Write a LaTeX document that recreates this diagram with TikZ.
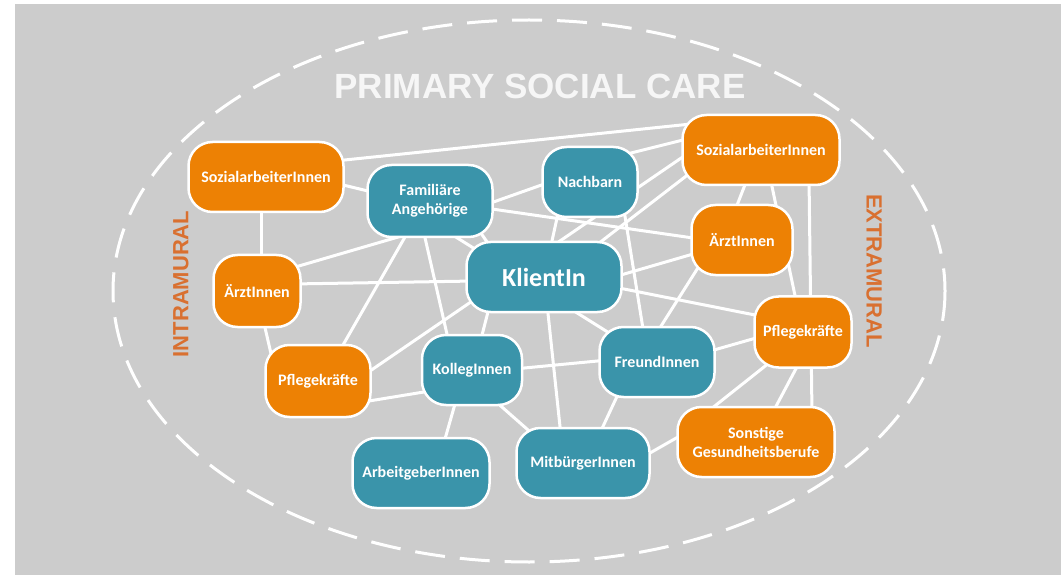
\documentclass[tikz,border=0pt]{standalone}
\usepackage{fontspec}
\setmainfont{Carlito}
\newfontfamily\headfont{Liberation Sans}
\usetikzlibrary{backgrounds}

\definecolor{panel}{RGB}{204,204,204}
\definecolor{careorange}{RGB}{237,129,4}
\definecolor{careteal}{RGB}{58,148,170}
\definecolor{sidelabel}{RGB}{217,112,48}
\definecolor{headwhite}{RGB}{246,246,246}

\tikzset{
  carebox/.style={rounded corners=24bp, draw=white, line width=2.5bp,
    text=white, align=center, inner sep=0pt, minimum height=70bp,
    font=\bfseries\fontsize{16bp}{19bp}\selectfont},
  obox/.style={carebox, fill=careorange},
  tbox/.style={carebox, fill=careteal},
  link/.style={draw=white, line width=3bp},
  sidetext/.style={text=sidelabel, font=\headfont\bfseries\fontsize{22bp}{22bp}\selectfont}
}

\begin{document}
\begin{tikzpicture}[x=1bp,y=-1bp]
\useasboundingbox (0,0) rectangle (1061,575);

% panel, boundary and headings
\begin{pgfonlayer}{background}
  \fill[white] (0,0) rectangle (1061,575);
  \fill[panel] (15,4) rectangle (1061,575);
  \draw[white, line width=3bp, dash pattern=on 30bp off 15bp] (529,291) ellipse [x radius=416, y radius=271];
\end{pgfonlayer}

\node[text=headwhite, font=\headfont\bfseries\fontsize{35bp}{35bp}\selectfont] (title) at (540,86) {PRIMARY SOCIAL CARE};
\node[sidetext, rotate=90] (intra) at (181,284) {INTRAMURAL};
\node[sidetext, rotate=-90] (extra) at (874,271) {EXTRAMURAL};

% intramural professions
\node[obox, minimum width=155bp] (sozl) at (266,177) {SozialarbeiterInnen};
\node[obox, minimum width=87bp, minimum height=72bp] (arztl) at (257,291) {ÄrztInnen};
\node[obox, minimum width=105bp, minimum height=72bp] (pfll) at (318,381) {Pflegekräfte};

% private network
\node[tbox, minimum width=125bp, minimum height=72bp] (fam) at (430,201) {Familiäre\\Angehörige};
\node[tbox, minimum width=95bp] (nach) at (590,182) {Nachbarn};
\node[tbox, minimum width=155bp, font=\bfseries\fontsize{26bp}{30bp}\selectfont] (klient) at (544,277) {KlientIn};
\node[tbox, minimum width=100bp] (kolleg) at (472,370) {KollegInnen};
\node[tbox, minimum width=137bp] (arbeit) at (421,473) {ArbeitgeberInnen};
\node[tbox, minimum width=115bp] (freund) at (657,362) {FreundInnen};
\node[tbox, minimum width=133bp] (mitb) at (583,463) {MitbürgerInnen};

% extramural professions
\node[obox, minimum width=157bp] (sozr) at (761,150) {SozialarbeiterInnen};
\node[obox, minimum width=101bp] (arztr) at (742,240) {ÄrztInnen};
\node[obox, minimum width=97bp, minimum height=71bp] (pflr) at (803,332) {Pflegekräfte};
\node[obox, minimum width=157bp] (sonst) at (756,442) {Sonstige\\Gesundheitsberufe};

% connections, drawn beneath the boxes
\begin{pgfonlayer}{background}
  \draw[link] ([shift={(69,-16)}]sozl.center) -- ([shift={(-70,-26)}]sozr.center);
  \draw[link] ([shift={(69,6)}]sozl.center) -- ([shift={(-54,-8)}]fam.center);
  \draw[link] ([shift={(-5,27)}]sozl.center) -- ([shift={(4,-28)}]arztl.center);
  \draw[link] ([shift={(55,4)}]fam.center) -- ([shift={(-40,0)}]nach.center);
  \draw[link] ([shift={(55,7)}]fam.center) -- ([shift={(-42,-1)}]arztr.center);
  \draw[link] ([shift={(46,25)}]fam.center) -- ([shift={(-50,-25)}]klient.center);
  \draw[link] ([shift={(-25,34)}]fam.center) -- ([shift={(35,-23)}]arztl.center);
  \draw[link] ([shift={(-21,29)}]fam.center) -- ([shift={(21,-29)}]pfll.center);
  \draw[link] ([shift={(-7,28)}]fam.center) -- ([shift={(-23,-27)}]kolleg.center);
  \draw[link] ([shift={(21,33)}]fam.center) -- ([shift={(-43,-26)}]freund.center);
  \draw[link] ([shift={(35,-7)}]arztl.center) -- ([shift={(-69,4)}]klient.center);
  \draw[link] ([shift={(6,28)}]arztl.center) -- ([shift={(-46,-23)}]pfll.center);
  \draw[link] ([shift={(52,-10)}]pfll.center) -- ([shift={(-71,2)}]sozr.center);
  \draw[link] ([shift={(51,20)}]pfll.center) -- ([shift={(-42,21)}]kolleg.center);
  \draw[link] ([shift={(-54,27)}]klient.center) -- ([shift={(8,-27)}]kolleg.center);
  \draw[link] ([shift={(3,27)}]klient.center) -- ([shift={(-22,-27)}]mitb.center);
  \draw[link] ([shift={(70,10)}]klient.center) -- ([shift={(-38,-15)}]pflr.center);
  \draw[link] ([shift={(70,0)}]klient.center) -- ([shift={(-42,12)}]arztr.center);
  \draw[link] ([shift={(50,-30)}]klient.center) -- ([shift={(-67,20)}]sozr.center);
  \draw[link] ([shift={(6,-27)}]klient.center) -- ([shift={(-31,27)}]nach.center);
  \draw[link] ([shift={(-15,27)}]kolleg.center) -- ([shift={(22,-27)}]arbeit.center);
  \draw[link] ([shift={(22,30)}]kolleg.center) -- ([shift={(-47,-26)}]mitb.center);
  \draw[link] ([shift={(42,-1)}]kolleg.center) -- ([shift={(-49,-2)}]freund.center);
  \draw[link] ([shift={(34,28)}]nach.center) -- ([shift={(-13,-27)}]freund.center);
  \draw[link] ([shift={(37,-28)}]nach.center) -- ([shift={(-70,-12)}]sozr.center);
  \draw[link] ([shift={(-1,-28)}]freund.center) -- ([shift={(-41,23)}]arztr.center);
  \draw[link] ([shift={(50,-10)}]freund.center) -- ([shift={(-40,4)}]pflr.center);
  \draw[link] ([shift={(-37,28)}]freund.center) -- ([shift={(16,-28)}]mitb.center);
  \draw[link] ([shift={(60,-6)}]mitb.center) -- ([shift={(-71,-9)}]sonst.center);
  \draw[link] ([shift={(-34,31)}]pflr.center) -- ([shift={(-45,-33)}]sonst.center);
  \draw[link] ([shift={(-4,31)}]pflr.center) -- ([shift={(17,-30)}]sonst.center);
  \draw[link] ([shift={(48,27)}]sozr.center) -- ([shift={(56,-27)}]sonst.center);
  \draw[link] ([shift={(9,27)}]sozr.center) -- ([shift={(-6,-27)}]pflr.center);
  \draw[link] ([shift={(-13,27)}]sozr.center) -- ([shift={(-8,-27)}]arztr.center);
\end{pgfonlayer}
\end{tikzpicture}
\end{document}
